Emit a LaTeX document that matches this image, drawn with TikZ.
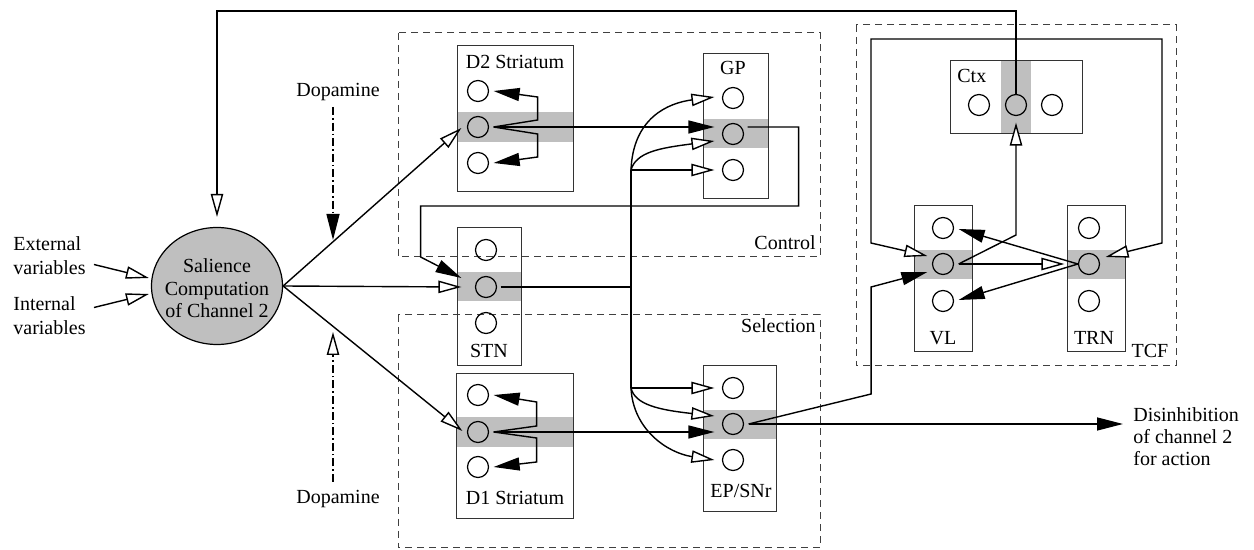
\documentclass[tikz,border=0pt]{standalone}
\usepackage{fontspec}
\setmainfont{Liberation Serif}
\usetikzlibrary{arrows.meta,calc,shapes.geometric}
\begin{document}
\begin{tikzpicture}[x=0.5pt,y=-0.5pt,
  font=\fontsize{10}{12}\selectfont,
  conn/.style={line width=0.7pt},
  op/.style={-{Triangle[fill=white,length=11.5pt,width=6.2pt]}},
  opb/.style={{Triangle[fill=white,length=11.5pt,width=6.2pt]}-{Triangle[fill=white,length=11.5pt,width=6.2pt]}},
  fi/.style={-{Triangle[length=13pt,width=6.5pt]}},
  dd/.style={dash pattern=on 4pt off 1.5pt on 0.8pt off 1.5pt},
  cell/.style={circle,draw,line width=0.6pt,minimum size=10.5pt,inner sep=0pt},
  box/.style={draw=black!80,line width=0.5pt},
  band/.style={fill=black!25},
  region/.style={draw=black!75,dash pattern=on 3.5pt off 2.5pt,line width=0.5pt},
  lbl/.style={inner sep=0pt}]
\useasboundingbox (0,0) rectangle (1254,550);

% regions
\draw[region] (398,33) rectangle (820,257);
\draw[region] (398,315) rectangle (820,548);
\draw[region] (856,25) rectangle (1176,366);
\node[lbl,anchor=base east] (lctrl) at (816,250) {Control};
\node[lbl,anchor=base east] (lsel) at (816,333) {Selection};
\node[lbl,anchor=base] (ltcf) at (1150,358) {TCF};

% bands
\fill[band] (457,112) rectangle (573,142);
\fill[band] (703,119) rectangle (768,148);
\fill[band] (457,272) rectangle (521,301);
\fill[band] (456,417) rectangle (573,447);
\fill[band] (703,410) rectangle (776,439);
\fill[band] (914,250) rectangle (972,279);
\fill[band] (1067,250) rectangle (1125,279);
\fill[band] (1001,61) rectangle (1031,134);

% boxes
\draw[box] (457,46) rectangle (573,192);
\draw[box] (703,54) rectangle (768,199);
\draw[box] (457,228) rectangle (521,366);
\draw[box] (456,374) rectangle (573,519);
\draw[box] (703,366) rectangle (776,512);
\draw[box] (914,206) rectangle (972,352);
\draw[box] (1067,206) rectangle (1125,352);
\draw[box] (950,61) rectangle (1082,134);

% box labels
\node[lbl,anchor=base] (ld2) at (515,69) {D2 Striatum};
\node[lbl,anchor=base] (lgp) at (733,75) {GP};
\node[lbl,anchor=base] (lstn) at (489,358) {STN};
\node[lbl,anchor=base] (ld1) at (515,505) {D1 Striatum};
\node[lbl,anchor=base] (lep) at (741,498) {EP/SNr};
\node[lbl,anchor=base] (lvl) at (943,345) {VL};
\node[lbl,anchor=base] (ltrn) at (1094,345) {TRN};
\node[lbl,anchor=base west] (lctx) at (957,83) {Ctx};

% cells
\node[cell] (d2a) at (478,91) {};
\node[cell] (d2b) at (478,127) {};
\node[cell] (d2c) at (478,163) {};
\node[cell] (gpa) at (733,98) {};
\node[cell] (gpb) at (733,134) {};
\node[cell] (gpc) at (733,170) {};
\node[cell] (stna) at (486,250) {};
\node[cell] (stnb) at (486,287) {};
\node[cell] (stnc) at (486,323) {};
\node[cell] (d1a) at (478,395) {};
\node[cell] (d1b) at (478,432) {};
\node[cell] (d1c) at (478,467) {};
\node[cell] (epa) at (733,388) {};
\node[cell] (epb) at (733,424) {};
\node[cell] (epc) at (733,460) {};
\node[cell] (vla) at (943,228) {};
\node[cell] (vlb) at (943,264) {};
\node[cell] (vlc) at (943,301) {};
\node[cell] (trna) at (1089,228) {};
\node[cell] (trnb) at (1089,264) {};
\node[cell] (trnc) at (1089,301) {};
\node[cell] (ctxa) at (979,105) {};
\node[cell] (ctxb) at (1016,105) {};
\node[cell] (ctxc) at (1052,105) {};

% salience
\node[ellipse,draw,line width=0.6pt,fill=black!25,minimum width=65.5pt,minimum height=58.5pt,inner sep=0pt] (sal) at (217,286) {};
\node[lbl,align=center,font=\fontsize{10}{11.25}\selectfont] (salt) at (217,288.5) {Salience\\Computation\\of Channel 2};

\node[lbl,anchor=west,align=left] (ext) at (13,255.5) {External\\variables};
\node[lbl,anchor=west,align=left] (int) at (13,315.5) {Internal\\variables};
\node[lbl,anchor=west,align=left,font=\fontsize{10}{11}\selectfont] (dis) at (1133,437) {Disinhibition\\of channel 2\\for action};

\node[lbl,anchor=base] (dopt) at (338,97) {Dopamine};
\node[lbl,anchor=base] (dopb) at (338,504) {Dopamine};

% junction coordinates
\coordinate (jgp) at (631,170);
\coordinate (jep) at (631,388);
\coordinate (d2o) at ($(d2b.east)+(4.5,0)$);
\coordinate (d1o) at ($(d1b.east)+(4.5,0)$);
\coordinate (epo) at ($(epb.east)+(4.5,0)$);
\coordinate (vlo) at ($(vlb.east)+(4.5,0)$);

% inputs to salience
\draw[conn,op] ($(ext.east)+(8,9)$) -- ($(sal.west)+(-2,-8)$);
\draw[conn,op] ($(int.east)+(8,-8)$) -- ($(sal.west)+(-2,8)$);
\draw[conn,op] (ctxb.north) |- (217,11) -- ($(sal.north)+(0,-10)$);

% salience outputs
\draw[conn,op] (sal.east) -- ($(d2b.west)+(-5.5,1)$);
\draw[conn,op] (sal.east) -- ($(stnb.west)+(-13.5,0)$);
\draw[conn,op] (sal.east) -- ($(d1b.west)+(-4.5,-1)$);

% dopamine
\coordinate (dtt) at (333,240);
\coordinate (dbt) at (333,332);
\draw[conn,dd,fi] ($(dopt.base)+(-5,10)$) -- (dtt);
\draw[conn,dd,op] ($(dopb.base)+(-5,-22)$) -- (dbt);

% D2 internal
\draw[conn,fi] (d2o) -- ++(44,-7) -- ++(0,-23) -- ($(d2a.east)+(4.5,0)$);
\draw[conn,fi] (d2o) -- ++(44,7) -- ++(0,23) -- ($(d2c.east)+(4.5,0)$);
\draw[conn,fi] (d2o) -- ($(gpb.west |- d2o)+(-7.5,0)$);

% GP loop to STN
\draw[conn,fi] ($(gpb.east)+(3.5,-7)$) -- ++(51,0) -- ++(0,79) -- ++(-378,0) -- ++(0,51) -- ($(stnb.west)+(-13.5,-9)$);

% STN outputs
\draw[conn] ($(stnb.east)+(3.5,0)$) -- (jgp |- stnb);
\draw[conn] (jgp) -- (jep);
\draw[conn,op] (jgp) -- ($(gpc.west)+(-7.5,0)$);
\draw[conn,op] (jgp) .. controls (636,152) and (660,148) .. ($(gpb.west)+(-7.5,7)$);
\draw[conn,op] (jgp) .. controls (633,118) and (668,103) .. ($(gpa.west)+(-7.5,-1)$);
\draw[conn,op] (jep) -- ($(epa.west)+(-7.5,0)$);
\draw[conn,op] (jep) .. controls (635,405) and (660,410) .. ($(epb.west)+(-7.5,-8)$);
\draw[conn,op] (jep) .. controls (633,430) and (668,453) .. ($(epc.west)+(-7.5,0)$);

% D1 internal
\draw[conn,fi] (d1o) -- ++(43,-6) -- ++(0,-24) -- ($(d1a.east)+(4.5,0)$);
\draw[conn,fi] (d1o) -- ++(43,6) -- ++(0,24) -- ($(d1c.east)+(4.5,0)$);
\draw[conn,fi] (d1o) -- ($(epb.west |- d1o)+(-7.5,0)$);

% EP outputs
\draw[conn,fi] (epo) -- ($(dis.west |- epo)+(-10,0)$);
\draw[conn,fi] (epo) -- ++(122.5,-30) -- ++(0,-107) -- ($(vlb.west)+(-4.5,8)$);

% TCF loop
\draw[conn,opb] ($(vlb.west)+(-4.5,-8)$) -- (871,243) -- (871,39) -- (1162,39) -- (1162,243) -- ($(trnb.east)+(5.5,-7)$);

% VL outputs
\draw[conn,op] (vlo) -- ($(ctxb |- vlo)+(0,-29)$) -- ($(ctxb.south)+(0,6.5)$);
\draw[conn,op] (vlo) -- ($(trnb.west)+(-13.5,0)$);

% TRN outputs
\draw[conn,fi] (trnb.west) -- ($(vla.east)+(4.5,1)$);
\draw[conn,fi] (trnb.west) -- ($(vlc.east)+(4.5,-1)$);
\end{tikzpicture}
\end{document}
